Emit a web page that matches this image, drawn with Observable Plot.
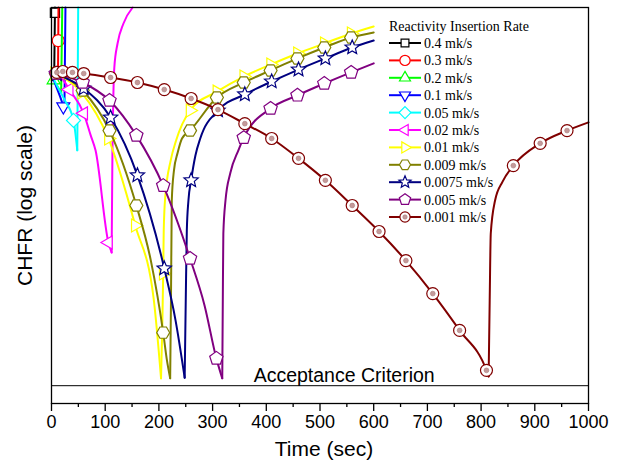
<!DOCTYPE html>
<html><head><meta charset="utf-8">
<script src="https://cdn.jsdelivr.net/npm/d3@7"></script>
<script src="https://cdn.jsdelivr.net/npm/@observablehq/plot@0.6"></script>
<style>
body{margin:0;background:#fff;}
#wrap{position:relative;width:619px;height:468px;}
#wrap svg{display:block;}
#legend{position:absolute;left:0;top:0;pointer-events:none;}
</style></head><body><div id="wrap"></div>
<script>
// ---------------- data (time in s, CHFR) ----------------
const rates = ["0.4 mk/s","0.3 mk/s","0.2 mk/s","0.1 mk/s","0.05 mk/s","0.02 mk/s","0.01 mk/s","0.009 mk/s","0.0075 mk/s","0.005 mk/s","0.001 mk/s"];
const xMajor = [0,100,200,300,400,500,600,700,800,900,1000];
const xMinor = [50,150,250,350,450,550,650,750,850,950];
const acceptance = 1.23;
const acceptanceText = "Acceptance Criterion";

const s04 = [[0,47.0],[5,44.8],[6.5,100]];
const m04 = [[6.4,94]];
const s03 = [[0,47.0],[9,43.5],[12,42.0],[13,100]];
const m03 = [[12.6,68]];
const s02 = [[0,44.8],[10,40.4],[18,37.2],[20,100]];
const m02 = [[4,43.0]];
const s01 = [[0,45.9],[8,40.4],[20,33.0],[24,30.2],[26,100]];
const m01 = [[22,31.6]];
const s005 = [[0,45.9],[10,40.4],[25,33.9],[41,26.9],[48,19.0],[49.7,100]];
const m005 = [[41,26.9]];
const s002 = [[0,47.0],[20,43.8],[33,38.5],[60,29.2],[73,22.6],[82,19.0],[106,6.5],[112,5.79],[113.5,19.0],[115,33.9],[117,49.8],[123,65.8],[134,83.0],[151,100]];
const m002 = [[33,38.5],[60,29.2],[106,6.5]];
const s001 = [[0,47.0],[6,46.4],[56,37.2],[106,21.8],[156,7.92],[190,3.43],[204,1.34],[208,4.54],[209,7.47],[212,11.2],[222,16.9],[232,21.3],[258,30.2],[308,37.6],[358,44.8],[408,51.5],[458,58.6],[508,65.8],[558,73.9],[600,80.2]];
const m001 = [[6,46.4],[56,37.2],[106,21.8],[156,7.92],[208,4.54],[258,30.2],[308,37.6],[358,44.8],[408,51.5],[458,58.6],[508,65.8],[558,73.9]];
const s0009 = [[0,47.0],[8,46.4],[58,38.1],[108,23.9],[158,10.0],[185,5.27],[208,2.28],[215,1.65],[221,1.34],[222.5,3.31],[224,10.6],[228,15.0],[235,18.5],[243,21.8],[258,23.9],[308,35.1],[358,41.8],[408,48.1],[458,55.3],[508,62.8],[558,70.5],[600,74.8]];
const m0009 = [[8,46.4],[58,38.1],[108,23.9],[158,10.0],[208,2.28],[258,23.9],[308,35.1],[358,41.8],[408,48.1],[458,55.3],[508,62.8],[558,70.5]];
const s00075 = [[0,47.0],[10,45.9],[60,39.0],[110,27.8],[160,14.2],[210,4.81],[231,2.63],[248,1.35],[250,3.31],[252,7.47],[255,10.6],[260,13.4],[268,17.9],[277,21.8],[310,30.2],[360,36.4],[410,42.3],[460,48.6],[510,55.3],[560,62.8],[600,68.1]];
const m00075 = [[10,45.9],[60,39.0],[110,27.8],[160,14.2],[210,4.81],[260,13.4],[310,30.2],[360,36.4],[410,42.3],[460,48.6],[510,55.3],[560,62.8]];
const s0005 = [[0,47.0],[8,46.4],[58,41.8],[108,33.9],[158,22.6],[208,12.6],[258,5.40],[285,3.13],[307,1.69],[318,1.34],[319,3.31],[320,7.22],[324,10.6],[333,14.6],[348,19.0],[358,22.0],[408,30.9],[458,36.0],[508,41.3],[558,47.0],[600,52.2]];
const m0005 = [[8,46.4],[58,41.8],[108,33.9],[158,22.6],[208,12.6],[258,5.40],[307,1.69],[358,22.0],[408,30.9],[458,36.0],[508,41.3],[558,47.0]];
const s0001 = [[0,47.5],[10,47.0],[21,47.5],[39,47.0],[60,46.4],[110,44.3],[160,41.8],[210,38.5],[260,34.7],[310,30.5],[360,25.9],[410,21.8],[460,17.3],[510,13.4],[560,10.0],[610,7.39],[660,5.27],[710,3.59],[760,2.34],[810,1.47],[814,1.37],[816,3.31],[818,7.22],[826,10.6],[840,13.2],[860,15.9],[910,20.6],[960,23.9],[1000,26.3]];
const m0001 = [[10,47.0],[21,47.5],[39,47.0],[60,46.4],[110,44.3],[160,41.8],[210,38.5],[260,34.7],[310,30.5],[360,25.9],[410,21.8],[460,17.3],[510,13.4],[560,10.0],[610,7.39],[660,5.27],[710,3.59],[760,2.34],[810,1.47],[860,15.9],[910,20.6],[960,23.9]];

const lines = [s04,s03,s02,s01,s005,s002,s001,s0009,s00075,s0005,s0001];
const markers = [m04,m03,m02,m01,m005,m002,m001,m0009,m00075,m0005,m0001];

// ---------------- styles ----------------
const colors = ["#000000","#ff0000","#00ff00","#0000ff","#00ffff","#ff00ff","#ffff00","#808000","#000080","#800080","#800000"];
function poly(n, rot, k = 1) {
  return {draw(ctx, size) {
    const R = Math.sqrt(size / Math.PI) * k;
    for (let i = 0; i < n; i++) {
      const a = rot + 2 * Math.PI * i / n, x = R * Math.cos(a), y = R * Math.sin(a);
      i ? ctx.lineTo(x, y) : ctx.moveTo(x, y);
    }
    ctx.closePath();
  }};
}
const star = {draw(ctx, size) {
  const R = Math.sqrt(size / Math.PI), ri = R * 0.45;
  for (let i = 0; i < 10; i++) {
    const a = -Math.PI / 2 + i * Math.PI / 5, rr = i % 2 ? ri : R;
    const x = rr * Math.cos(a), y = rr * Math.sin(a);
    i ? ctx.lineTo(x, y) : ctx.moveTo(x, y);
  }
  ctx.closePath();
}};
const symbols = [poly(4, Math.PI/4), d3.symbolCircle, poly(3, -Math.PI/2), poly(3, Math.PI/2), poly(4, -Math.PI/2),
  poly(3, Math.PI), poly(3, 0), poly(6, 0), star, poly(5, -Math.PI/2), d3.symbolCircle];
const radii = [6.5, 6, 7.5, 7.5, 7, 7.5, 7.5, 6.5, 7.5, 7, 6];

// ---------------- marks ----------------
const marks = [];
lines.forEach((pts, i) => {
  const iMin = d3.minIndex(pts, d => d[1]);
  const down = pts.slice(0, iMin + 1), up = pts.slice(iMin);
  for (const seg of [down, up]) {
    if (seg.length > 1) marks.push(Plot.line(seg, {x: d => d[0], y: d => d[1], stroke: colors[i], strokeWidth: 2, curve: "monotone-x"}));
  }
  marks.push(Plot.dot(markers[i], {x: d => d[0], y: d => d[1], symbol: symbols[i], r: radii[i], stroke: colors[i], fill: "white", strokeWidth: 1.2}));
  if (i === lines.length - 1) {
    marks.push(Plot.dot(markers[i], {x: d => d[0], y: d => d[1], r: 2.4, fill: "#c49a9a", stroke: "#a87878", strokeWidth: 0.6}));
  }
});

const chart = Plot.plot({
  width: 619, height: 468,
  marginLeft: 51, marginRight: 31, marginTop: 7, marginBottom: 65,
  style: {fontFamily: "'Liberation Sans', Arial, sans-serif", background: "white", color: "black"},
  x: {domain: [0, 1000]},
  y: {type: "log", domain: [1, 100], axis: null},
  marks: [
    Plot.ruleY([acceptance], {stroke: "black", strokeWidth: 1}),
    Plot.text([acceptanceText], {x: 545, y: acceptance, dy: -10, fontSize: 19.5, fill: "black"}),
    ...marks,
    Plot.frame({stroke: "black", strokeWidth: 1.3}),
    Plot.axisX({ticks: xMajor, tickSize: 8, tickPadding: 4, fontSize: 18, label: null, tickFormat: d => String(d), strokeWidth: 1.3}),
    Plot.axisX({ticks: xMinor, tickSize: 4, tickFormat: () => "", label: null, strokeWidth: 1.3}),
    Plot.text(["Time (sec)"], {frameAnchor: "bottom", dy: 52, dx: 4, fontSize: 21, fill: "black"}),
    Plot.text(["CHFR (log scale)"], {frameAnchor: "left", textAnchor: "middle", dx: -26, rotate: -90, fontSize: 21, fill: "black"})
  ]
});
document.getElementById("wrap").appendChild(chart);

// ---------------- legend (inside plot, top right) ----------------
const svgL = d3.select("#wrap").append("svg").attr("id", "legend").attr("width", 619).attr("height", 468);
const lg = svgL.append("g").attr("font-family", "'Liberation Serif','Times New Roman',serif").attr("font-size", 14).attr("fill", "black");
lg.append("text").attr("x", 389).attr("y", 26).attr("dy", "0.35em").text("Reactivity Insertion Rate");
rates.forEach((r, i) => {
  const y = 43 + i * 17.4;
  lg.append("line").attr("x1", 389).attr("x2", 421).attr("y1", y).attr("y2", y).attr("stroke", colors[i]).attr("stroke-width", 2);
  const rr = radii[i] * 0.85;
  lg.append("path").attr("transform", `translate(405,${y})`).attr("d", d3.symbol(symbols[i], Math.PI * rr * rr)())
    .attr("fill", "white").attr("stroke", colors[i]).attr("stroke-width", 1.2);
  if (i === rates.length - 1) lg.append("circle").attr("cx", 405).attr("cy", y).attr("r", 2.2).attr("fill", "#c49a9a").attr("stroke", "#a87878").attr("stroke-width", 0.6);
  lg.append("text").attr("x", 424).attr("y", y).attr("dy", "0.35em").text(r);
});
</script>
</body></html>
